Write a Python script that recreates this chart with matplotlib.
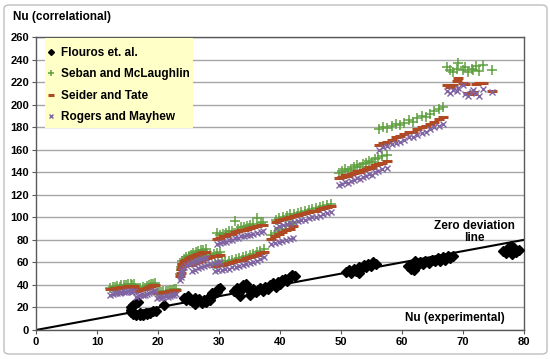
import matplotlib
matplotlib.use("Agg")
import matplotlib.pyplot as plt
from matplotlib.patches import FancyBboxPatch, Rectangle

plt.rcParams['font.family'] = ['Liberation Sans', 'DejaVu Sans']
plt.rcParams['font.weight'] = 'bold'

# ---------------- data ----------------
# Experimental Nu for the three correlations
nu_exp = [
    12.2, 12.6, 13.0, 13.3, 13.7, 14.0, 14.4, 14.8, 15.1, 15.5, 15.8, 16.1,
    16.4, 16.8, 17.1, 17.5, 17.9, 18.2, 18.6, 18.9, 19.2, 19.5,
    19.8, 20.2, 20.5, 20.9, 21.3, 21.6, 22.0, 22.3, 22.7, 23.0,
    23.6, 23.7, 23.8, 23.9, 24.0,
    24.2, 24.6, 25.0, 25.4, 25.8, 26.2, 26.6, 27.0, 27.4, 27.8,
    25.6, 26.1, 26.6, 27.1, 27.6, 28.1, 28.6, 29.1, 29.6, 30.1,
    29.6, 30.1, 30.6, 31.1, 31.6, 32.1, 32.6, 33.1, 33.6, 34.1, 34.6, 35.1, 35.6, 36.2, 36.9, 37.2,
    29.3, 29.9, 30.5, 31.0, 31.6, 32.2, 32.8, 33.3, 33.9, 34.5, 35.0, 35.6, 36.2, 36.8, 37.4,
    38.6, 39.2, 39.8, 40.4, 41.0, 41.6, 42.2,
    39.3, 39.9, 40.5, 41.1, 41.7, 42.3, 42.9, 43.5, 44.1, 44.7, 45.3, 45.9, 46.5, 47.1, 47.7, 48.3,
    49.6, 50.1, 50.6, 51.1, 51.6, 52.1, 52.6, 53.1, 53.6, 54.1, 54.6, 55.1, 55.6, 56.1, 56.8, 57.5,
    56.2, 56.9, 57.6, 58.3, 59.0, 59.7, 60.4, 61.1, 61.8, 62.5, 63.2, 63.9, 64.6, 65.3, 66.0, 66.7,
    67.3, 67.8, 68.3, 69.0, 69.2, 70.0, 70.3, 70.9, 71.4, 71.7, 72.2, 72.6, 73.3, 74.7,
]
nu_seban = [
    37.5, 38.0, 38.4, 39.0, 38.6, 39.5, 40.1, 39.6, 40.4, 41.0, 40.2, 40.8,
    36.0, 36.8, 37.5, 38.2, 37.6, 39.0, 39.8, 40.5, 41.2, 41.8,
    33.5, 34.0, 33.8, 34.5, 35.0, 34.7, 35.4, 35.9, 36.3, 36.8,
    50.0, 53.0, 56.0, 59.0, 61.5,
    63.0, 64.5, 65.8, 66.8, 67.9, 68.8, 69.8, 70.6, 71.3, 72.0,
    60.0, 61.3, 62.5, 63.6, 64.8, 65.9, 66.8, 67.8, 68.5, 69.3,
    86.0, 84.5, 85.5, 86.0, 87.5, 88.0, 97.0, 90.0, 91.0, 91.5, 92.5, 93.0, 94.0, 99.0, 95.0, 96.0,
    58.5, 59.5, 60.0, 61.0, 61.5, 62.5, 63.0, 64.0, 64.5, 65.5, 66.5, 67.5, 69.0, 70.5, 72.0,
    84.0, 86.0, 88.0, 90.0, 92.0, 94.0, 96.0,
    98.0, 99.5, 100.5, 101.5, 102.5, 103.0, 104.0, 105.0, 105.5, 106.5, 107.5, 108.0, 109.0, 110.0, 111.0, 112.0,
    139.0, 141.0, 142.5, 141.5, 143.0, 144.5, 146.0, 145.0, 147.0, 148.5, 150.0, 149.0, 151.5, 153.0, 154.0, 155.0,
    178.0, 180.0, 179.0, 181.0, 183.0, 182.0, 184.0, 186.0, 185.0, 188.0, 190.0, 189.0, 192.0, 194.0, 196.0, 198.0,
    233.0, 231.0, 229.0, 232.0, 237.0, 231.0, 233.0, 229.0, 232.0, 231.0, 234.0, 230.0, 235.0, 231.0,
]
nu_seider = [
    36.0, 36.4, 36.9, 37.3, 37.0, 37.8, 38.3, 37.9, 38.7, 39.2, 38.4, 39.0,
    34.8, 35.5, 36.2, 36.8, 36.3, 37.6, 38.3, 39.0, 39.6, 40.2,
    32.4, 32.9, 32.7, 33.4, 33.8, 33.5, 34.2, 34.7, 35.1, 35.5,
    48.0, 51.0, 54.0, 56.5, 59.0,
    61.0, 62.4, 63.6, 64.6, 65.6, 66.5, 67.4, 68.2, 68.9, 69.6,
    58.0, 59.2, 60.4, 61.5, 62.6, 63.6, 64.5, 65.4, 66.1, 66.9,
    80.5, 82.0, 83.0, 83.5, 85.0, 85.5, 87.0, 87.5, 88.5, 89.0, 90.0, 90.5, 91.5, 92.5, 93.0, 93.5,
    56.5, 57.5, 58.0, 59.0, 59.5, 60.5, 61.0, 62.0, 62.5, 63.5, 64.5, 65.5, 66.5, 68.0, 69.5,
    81.0, 83.0, 85.0, 87.0, 88.5, 90.0, 92.0,
    96.0, 97.5, 98.5, 99.5, 100.5, 101.0, 102.0, 103.0, 103.5, 104.5, 105.5, 106.0, 107.0, 108.0, 109.0, 110.0,
    134.5, 136.0, 137.5, 136.5, 138.0, 139.5, 141.0, 140.0, 142.0, 143.0, 144.5, 143.5, 146.0, 147.5, 148.5, 150.0,
    164.0, 166.0, 167.0, 169.0, 171.0, 172.0, 174.0, 176.0, 176.0, 178.0, 180.0, 181.0, 183.0, 185.0, 187.0, 189.0,
    217.0, 216.0, 217.0, 221.0, 224.0, 219.0, 218.0, 210.0, 209.0, 211.0, 218.0, 219.0, 219.0, 212.0,
]
nu_rogers = [
    31.5, 32.0, 32.4, 33.0, 32.6, 33.3, 33.9, 33.4, 34.2, 34.7, 34.0, 34.5,
    29.5, 30.2, 30.8, 31.5, 31.0, 32.2, 32.9, 33.5, 34.2, 34.8,
    28.5, 29.0, 28.8, 29.5, 30.0, 29.7, 30.3, 30.8, 31.2, 31.6,
    44.5, 47.0, 49.5, 52.0, 54.5,
    56.0, 57.3, 58.5, 59.4, 60.4, 61.2, 62.1, 62.9, 63.6, 64.3,
    52.5, 53.6, 54.7, 55.7, 56.7, 57.6, 58.4, 59.2, 59.9, 60.6,
    76.0, 77.0, 78.0, 78.5, 79.5, 80.0, 81.5, 82.0, 83.0, 83.5, 84.0, 84.5, 85.5, 86.5, 87.0, 87.5,
    52.0, 53.0, 53.5, 54.0, 54.5, 55.5, 56.0, 57.0, 57.5, 58.5, 59.5, 60.5, 61.5, 63.0, 64.5,
    76.5, 77.5, 78.5, 79.0, 80.0, 81.0, 82.0,
    90.5, 92.0, 93.0, 94.0, 95.0, 95.5, 96.5, 97.5, 98.0, 99.0, 100.0, 100.5, 101.5, 102.5, 103.5, 104.5,
    128.5, 130.0, 131.5, 130.5, 132.0, 133.5, 135.0, 134.0, 136.0, 137.0, 138.5, 137.5, 140.0, 141.5, 142.5, 143.5,
    160.0, 162.0, 163.0, 165.0, 166.0, 167.0, 169.0, 171.0, 171.0, 173.0, 175.0, 176.0, 178.0, 180.0, 181.0, 183.0,
    212.0, 210.0, 213.0, 212.0, 215.0, 217.0, 209.0, 208.0, 211.0, 213.0, 210.0, 208.0, 214.0, 211.0,
]

# Flouros et. al. (experimental Nu, correlational Nu)
flouros_x = [
    16.3, 15.9, 15.6, 15.5, 15.6, 15.9, 16.4, 17.0, 17.6, 18.2, 18.7, 19.2, 19.6, 16.7, 17.0, 18.0,
    21.0,
    24.2, 24.6, 24.9, 25.3, 25.7, 26.0, 26.4, 26.8, 27.2, 27.5, 27.9, 28.2, 28.5, 28.8, 26.0, 28.9,
    29.7, 29.9, 30.1,
    32.5, 32.9, 33.3, 33.7, 34.0, 34.4, 34.8, 35.2, 35.6, 36.0, 36.4, 36.8, 37.2, 37.6, 38.0, 38.4, 38.8, 35.0, 33.5,
    39.2, 39.6, 40.0, 40.4, 40.8, 41.2, 41.6, 42.0, 42.4, 39.4,
    50.9, 51.3, 51.7, 52.1, 52.5, 52.9, 53.3, 53.7, 54.1, 54.5, 54.9, 55.3, 55.7, 53.0,
    61.0, 61.4, 61.8, 62.2, 62.6, 63.0, 63.4, 63.8, 64.4, 64.9, 65.4, 65.9, 66.3, 66.7, 67.1, 67.5, 67.9, 68.3, 62.0,
    76.6, 77.0, 77.3, 77.7, 78.0, 78.3, 78.7, 79.1, 77.8,
]
flouros_y = [
    23.5, 22.0, 20.0, 18.0, 16.0, 14.5, 13.5, 13.0, 13.5, 14.0, 15.5, 16.5, 17.0, 24.5, 15.0, 15.5,
    22.0,
    28.5, 26.5, 30.0, 27.0, 24.5, 28.0, 25.5, 27.5, 24.0, 26.5, 25.0, 28.5, 26.5, 30.5, 23.0, 33.0,
    34.0, 36.0, 37.5,
    35.0, 37.5, 33.5, 36.5, 39.5, 41.0, 37.0, 34.0, 36.5, 33.5, 35.5, 37.5, 34.5, 38.5, 36.0, 40.0, 42.0, 31.0, 30.5,
    40.0, 42.5, 41.0, 44.0, 45.5, 43.5, 47.0, 48.5, 47.5, 38.5,
    51.5, 53.5, 50.5, 54.5, 52.0, 56.0, 54.0, 57.5, 55.5, 59.0, 57.0, 60.0, 58.5, 50.5,
    57.0, 54.5, 59.0, 61.5, 57.5, 60.0, 58.5, 61.0, 59.5, 62.5, 61.0, 63.5, 61.0, 64.5, 62.5, 65.5, 64.0, 66.0, 53.5,
    70.5, 68.0, 72.5, 70.0, 67.5, 73.0, 69.5, 71.0, 74.5,
]

line_x = [0, 80]
line_y = [0, 80]

x_ticks = [0, 10, 20, 30, 40, 50, 60, 70, 80]
y_ticks = [0, 20, 40, 60, 80, 100, 120, 140, 160, 180, 200, 220, 240, 260]

# ---------------- figure ----------------
fig = plt.figure(figsize=(5.5, 3.59), dpi=100)
ax = fig.add_axes([36/550, 1-330/359, 488/550, 293/359])

border = FancyBboxPatch((4/550, 5/359), 543/550, 349/359,
                        boxstyle="round,pad=0,rounding_size=0.01",
                        transform=fig.transFigure, fill=False,
                        edgecolor='#BFBFBF', lw=1.0, zorder=0)
fig.patches.append(border)

ax.set_xlim(0, 80)
ax.set_ylim(0, 260)
ax.set_xticks(x_ticks)
ax.set_yticks(y_ticks)
ax.yaxis.grid(True, color='#A6A6A6', lw=1.0)
ax.set_axisbelow(True)
for s in ax.spines.values():
    s.set_color('#595959')
    s.set_linewidth(1.0)
ax.tick_params(axis='both', labelsize=8, length=3, color='#595959', pad=2)
for lab in ax.get_xticklabels() + ax.get_yticklabels():
    lab.set_fontweight('bold')

ax.plot(line_x, line_y, color='black', lw=1.5, zorder=2)

ax.plot(flouros_x, flouros_y, linestyle='none', marker='D', markersize=5,
        color='black', label='Flouros et. al.', zorder=3)
ax.plot(nu_exp, nu_seban, linestyle='none', marker='+', markersize=7, mew=1.1,
        color='#5FA040', label='Seban and McLaughlin', zorder=4)
ax.plot(nu_exp, nu_seider, linestyle='none', marker='_', markersize=6.5, mew=2.2,
        color='#B04A22', label='Seider and Tate', zorder=5)
ax.plot(nu_exp, nu_rogers, linestyle='none', marker='x', markersize=5, mew=1.0,
        color='#8064A2', label='Rogers and Mayhew', zorder=6)

# legend background (yellow box)
bg = Rectangle(((45-36)/488, (330-128)/293), 148/488, 90/293,
               transform=ax.transAxes, facecolor='#FFFFC8', edgecolor='none',
               zorder=9)
ax.add_patch(bg)

leg = ax.legend(loc='upper left', bbox_to_anchor=((47-36)/488, (330-47)/293),
                frameon=False, prop={'size': 8.5, 'weight': 'bold'},
                markerscale=0.6, handlelength=0.6, handletextpad=0.55,
                labelspacing=0.8, borderpad=0.0, borderaxespad=0.0)
leg.set_zorder(10)

fig.text(13/550, 1-17/359, 'Nu (correlational)', fontsize=8.5, fontweight='bold',
         ha='left', va='center')
ax.text(71.8, 87, 'Zero deviation\nline', fontsize=8.5, fontweight='bold',
        ha='center', va='center', linespacing=1.0)
ax.text(68.7, 10.6, 'Nu (experimental)', fontsize=8.5, fontweight='bold',
        ha='center', va='center')

fig.savefig('out.png', dpi=100)
